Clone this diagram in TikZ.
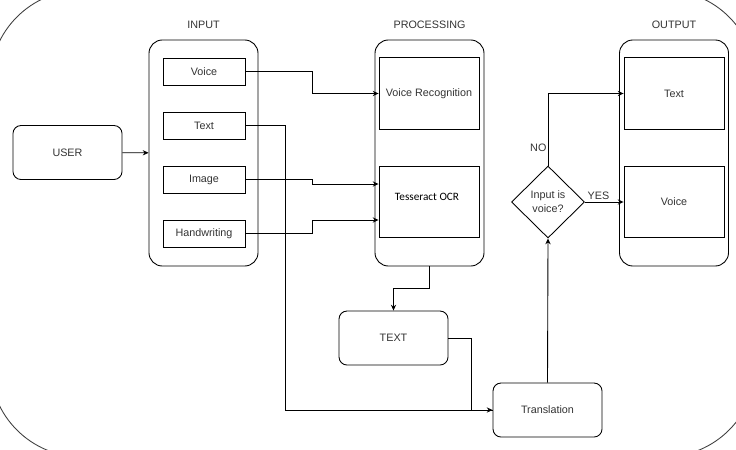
\documentclass[tikz,border=0pt]{standalone}
\usepackage{fontspec}
\setmainfont{Liberation Sans}
\newfontfamily\ocrfont{Carlito}
\usetikzlibrary{
    arrows.meta,
    shapes.geometric,
    positioning,
    calc
}
\tikzstyle{groupbox} = [
    draw,
    rounded corners=0.4cm,
    minimum width=3.27cm,
    minimum height=6.78cm
]
\tikzstyle{itembox} = [
    draw,
    minimum width=2.46cm,
    minimum height=0.81cm
]
\tikzstyle{stagebox} = [
    draw,
    minimum width=3cm,
    minimum height=2.14cm
]
\tikzstyle{roundbox} = [
    draw,
    rounded corners=0.24cm,
    minimum width=3.27cm,
    minimum height=1.62cm
]
\tikzstyle{decision} = [
    diamond,
    draw,
    inner sep=0pt,
    align=center,
    minimum width=2.19cm,
    minimum height=2.16cm,
    font=\fontsize{9.2}{12}\selectfont
]
\tikzstyle{arrow} = [
    -{Stealth[length=5pt,width=4.5pt]},
    draw=black
]
\tikzstyle{link} = [
    draw=black
]

\begin{document}
\begin{tikzpicture}[x=0.03cm, y=-0.03cm, line width=0.75pt,
    font=\fontsize{9.2}{11}\selectfont, text=black!80]
        \useasboundingbox (0,0) rectangle (736,449);

        % Outer frame
        \begin{scope}
            \clip (0,0) rectangle (736,449);
            \draw[black!75, rounded corners=2.76cm] (-10,-10) rectangle (756,457);
        \end{scope}

        % Headings
        \node (inhead) at (203.5,25) {INPUT};
        \node (prochead) at (429.5,25) {PROCESSING};
        \node (outhead) at (674,25) {OUTPUT};

        % User
        \node[roundbox] (user) at (67.5,152.5) {USER};

        % Input group
        \node[groupbox] (ingroup) at (203.5,153) {};
        \node[itembox] (voice) at (204,71.5) {Voice};
        \node[itembox] (text) at (204,125.5) {Text};
        \node[itembox] (image) at (204,179.5) {Image};
        \node[itembox] (hand) at (204,233.5) {Handwriting};

        % Processing group
        \node[groupbox] (procgroup) at (429.5,153) {};
        \node[stagebox] (vrec) at (429,93.5) {Voice Recognition};
        \node[stagebox] (ocr) at (429,202) {};
        \node[text=black, font=\ocrfont\fontsize{9.6}{11}\selectfont] (ocrlabel) at (427,197) {Tesseract OCR};

        % Output group
        \node[groupbox] (outgroup) at (674,153) {};
        \node[stagebox] (outtext) at (674,93.5) {Text};
        \node[stagebox] (outvoice) at (674,202) {Voice};

        % Middle blocks
        \node[roundbox] (textblk) at (393.5,338) {TEXT};
        \node[roundbox] (trans) at (547.5,410) {Translation};
        \node[decision] (check) at (548,202) {Input is\\voice?};

        % Connectors
        \draw[arrow] (user) -- (ingroup);
        \draw[arrow] (voice.east) -- ++(67,0) |- (vrec.west);
        \draw[arrow] (image.east) -- ++(67,0) |- ($(ocr.west)+(0,-18)$);
        \draw[arrow] (hand.east) -- ++(67,0) |- ($(ocr.west)+(0,18)$);
        \draw[arrow] (text.east) -- ++(40,0) |- (trans.west);
        \draw[arrow] (procgroup.south) -- ++(0,22) -| (textblk.north);
        \draw[link] (textblk.east) -- ++(23,0) |- (trans.west);
        \draw[arrow] (trans.north) -- (check.south);
        \draw[arrow] (check.north) |- node[pos=0.12, left, inner sep=1pt] {NO} (outtext.west);
        \draw[arrow] (check.east) -- node[pos=0.35, above, inner sep=2pt] {YES} (outvoice.west);
    \end{tikzpicture}
\end{document}
